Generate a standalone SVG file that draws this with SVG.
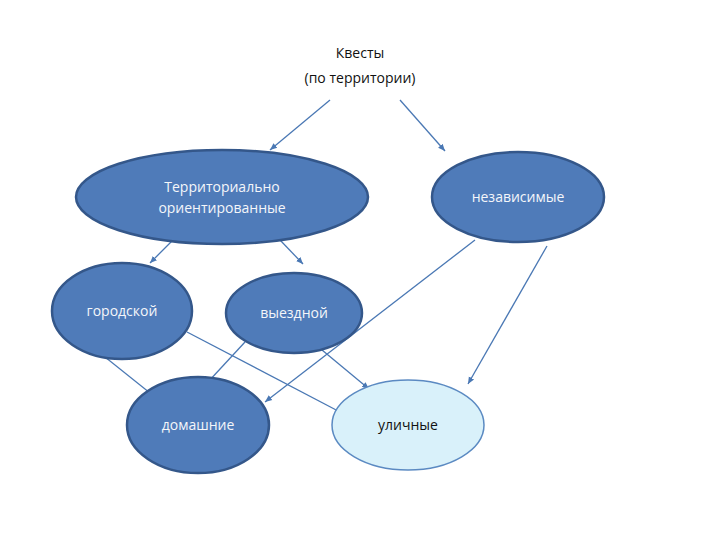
<svg xmlns="http://www.w3.org/2000/svg" width="720" height="540" viewBox="0 0 720 540">
<style>
.n{fill:#4f7bb9;stroke:#34578a;stroke-width:2.5}
.l{fill:#d9f1fa;stroke:#5b8ac2;stroke-width:1.5}
.w{font-family:"Open Sans","Liberation Sans",sans-serif;font-size:14px;fill:#f4f6fa;text-anchor:middle}
.b{font-family:"Open Sans","Liberation Sans",sans-serif;font-size:14px;fill:#111;text-anchor:middle}
.c{stroke:#4a78b4;stroke-width:1.3;fill:none}
</style>
<defs><marker id="a" markerWidth="8" markerHeight="8" refX="7" refY="4" orient="auto" markerUnits="userSpaceOnUse"><path d="M0,1 L7,4 L0,7 Z" fill="#4a78b4"/></marker></defs>
<rect width="720" height="540" fill="#fff"/>
<g id="connectors">
<path class="c" d="M330,100 L270,150" marker-end="url(#a)"/>
<path class="c" d="M400,100 L445,151" marker-end="url(#a)"/>
<path class="c" d="M173,240 L150,263" marker-end="url(#a)"/>
<path class="c" d="M280,240 L303,264" marker-end="url(#a)"/>
<path class="c" d="M475,240 L265,402" marker-end="url(#a)"/>
<path class="c" d="M547,246 L468,384" marker-end="url(#a)"/>
<path class="c" d="M105,357 L150,393"/>
<path class="c" d="M187,332 L340,412"/>
<path class="c" d="M322,350 L369,389" marker-end="url(#a)"/>
<path class="c" d="M245,342 L208,382"/>
</g>
<g id="title"><text class="b" x="360" y="58">Квесты</text><text class="b" x="360" y="83">(по территории)</text></g>
<g id="terr"><ellipse class="n" cx="222" cy="197" rx="146" ry="47"/><text class="w" x="222" y="192">Территориально</text><text class="w" x="222" y="213">ориентированные</text></g>
<g id="indep"><ellipse class="n" cx="518" cy="197" rx="86" ry="45"/><text class="w" x="518" y="202">независимые</text></g>
<g id="city"><ellipse class="n" cx="122" cy="311" rx="70" ry="48"/><text class="w" x="122" y="316">городской</text></g>
<g id="away"><ellipse class="n" cx="294" cy="313" rx="68" ry="40"/><text class="w" x="294" y="318">выездной</text></g>
<g id="home"><ellipse class="n" cx="198" cy="425" rx="71" ry="48"/><text class="w" x="198" y="430">домашние</text></g>
<g id="street"><ellipse class="l" cx="408" cy="425" rx="76" ry="45"/><text class="b" x="408" y="430">уличные</text></g>
</svg>
